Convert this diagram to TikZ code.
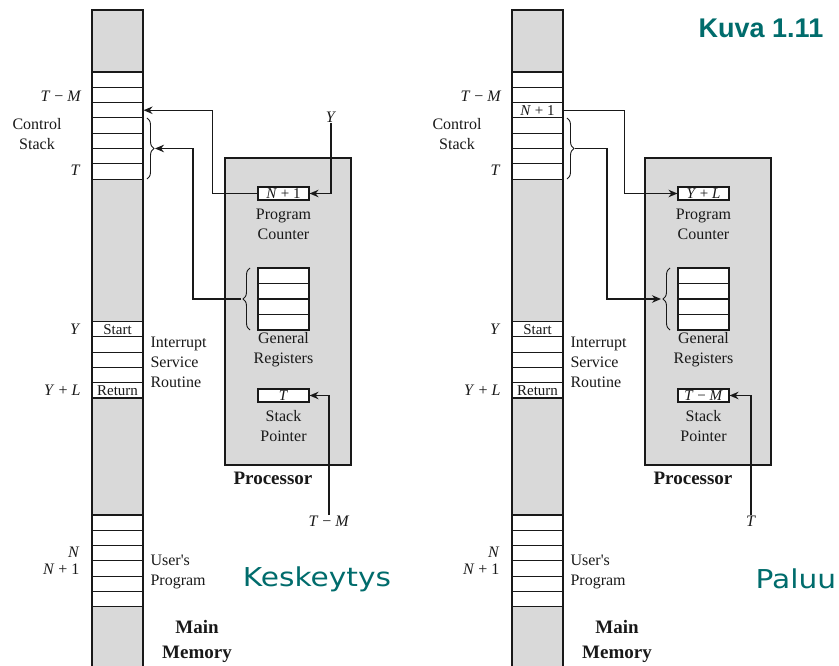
\documentclass[tikz,border=0pt]{standalone}
\usepackage{fontspec}
\setmainfont{Liberation Serif}
\newfontfamily\headfont{Liberation Sans}
\newfontfamily\wordfont{DejaVu Sans}
\usetikzlibrary{arrows.meta,decorations.pathreplacing}
\definecolor{memgray}{RGB}{217,217,217}
\definecolor{tealk}{RGB}{0,108,108}
\definecolor{ink}{RGB}{25,25,25}
\newcommand\lblfont{\fontsize{16}{20}\selectfont}
\newcommand\cellfont{\fontsize{15}{15}\selectfont}
\newcommand\bldfont{\fontsize{19}{25}\selectfont\bfseries}
\newcommand\Np{\textit{N} + 1}
\newcommand\Yl{\textit{Y} + \textit{L}}
\newcommand\Tv{\textit{T}}
\newcommand\Tm{\textit{T} − \textit{M}}
\tikzset{
  cell/.style={draw=ink, fill=white, minimum width=51pt, minimum height=15.3pt, inner sep=0pt, font=\cellfont, text=ink},
  lbl/.style={inner sep=0pt, font=\lblfont, text=ink, align=center},
  lblr/.style={lbl, anchor=east},
  lbll/.style={lbl, anchor=west, align=left},
  bld/.style={inner sep=0pt, font=\bldfont, text=ink, align=center},
  arr/.style={draw=ink, line width=1.2pt, -{Stealth[length=9pt,width=7.5pt]}},
  bracex/.style={draw=ink, line width=0.9pt, decorate, decoration={brace, amplitude=7pt}},
  headtxt/.style={inner sep=0pt, text=tealk}
}
\begin{document}
\begin{tikzpicture}[x=1pt, y=-1pt, line width=1.1pt]
\useasboundingbox[fill=white] (0,0) rectangle (839,666);
\foreach \p/\dx/\pct/\spt in {L/0/\Np/\Tv, R/420/\Yl/\Tm} {
\begin{scope}[xshift=\dx pt]
  % main memory column
  \fill[memgray] (92,10) rectangle (143,666);
  \draw[ink] (92,667) -- (92,10) -- (143,10) -- (143,667);
  \foreach \i in {1,...,7}
    \node[cell] (\p-s\i) at (117.5,{72+(\i-0.5)*15.3}) {};
  \foreach \i in {1,...,5}
    \node[cell] (\p-i\i) at (117.5,{321.5+(\i-0.5)*15.3}) {};
  \node[cell] (\p-start) at (\p-i1) {Start};
  \node[cell] (\p-ret) at (\p-i5) {Return};
  \foreach \i in {1,...,6}
    \node[cell] (\p-u\i) at (117.5,{515+(\i-0.5)*15.3}) {};
  % memory labels
  \node[lblr] (\p-ltm) at (82,96) {\Tm};
  \node[lbl] (\p-cs) at (37,134) {Control\\Stack};
  \node[lblr] (\p-lt) at (81,170) {\Tv};
  \node[lblr] (\p-ly) at (81,329) {\textit{Y}};
  \node[lblr] (\p-lyl) at (81,390) {\Yl};
  \node[lblr] (\p-ln) at (80,552) {\textit{N}};
  \node[lblr] (\p-ln1) at (80,569) {\Np};
  \node[lbll] (\p-isr) at (150,362) {Interrupt\\Service\\Routine};
  \node[lbll] (\p-up) at (150,572) {User\textquotesingle s\\Program};
  \node[bld] (\p-mm) at (197,641) {Main\\Memory};
  % processor
  \node[draw=ink, fill=memgray, minimum width=126pt, minimum height=307pt, inner sep=0pt] (\p-proc) at (288,311.5) {};
  \node[cell, minimum height=13pt] (\p-pc) at (283.5,193.5) {\pct};
  \node[lbl] (\p-pcl) at (283.5,224) {Program\\Counter};
  \foreach \j in {1,...,4}
    \node[cell, minimum height=15.5pt] (\p-r\j) at (283.5,{268+(\j-0.5)*15.5}) {};
  \node[lbl] (\p-grl) at (283.5,350) {General\\Registers};
  \node[cell, minimum height=13pt] (\p-sp) at (283.5,395.5) {\spt};
  \node[lbl] (\p-spl) at (283.5,426) {Stack\\Pointer};
  \node[bld] (\p-prl) at (273,478) {Processor};
  % braces
  \draw[bracex] (147,118) -- (147,179);
  \draw[bracex] (250,330) -- (250,268);
  \coordinate (\p-bs) at (155,148.5);
  \coordinate (\p-br) at (241,299);
\end{scope}
}
% left panel connectors
\node[lbl] (L-yin) at (331,117) {\textit{Y}};
\node[lbl] (L-tmin) at (329,521) {\Tm};
\draw[arr] (L-pc.west) -- ++(-45,0) |- (L-s3.east);
\draw[arr] (L-br) -- ++(-48,0) |- (L-bs);
\draw[arr] (L-yin.south) |- (L-pc.east);
\draw[arr] (L-tmin.north) |- (L-sp.east);
% right panel connectors
\node[cell] (R-s3t) at (R-s3) {\Np};
\node[lbl] (R-tin) at (751,521) {\Tv};
\draw[arr] (R-s3.east) -- ++(61,0) |- (R-pc.west);
\draw[arr] (R-bs) -- ++(32,0) |- (R-br);
\draw[arr] (R-tin.north) |- (R-sp.east);
% headings
\node[headtxt, font=\headfont\bfseries\fontsize{27}{30}\selectfont] (kuva) at (761,28) {Kuva 1.11};
\node[headtxt, font=\wordfont\fontsize{26}{30}\selectfont] (kesk) at (317,579) {\scalebox{1.14}[1]{Keskeytys}};
\node[headtxt, font=\wordfont\fontsize{26}{30}\selectfont, anchor=west] (paluu) at (755,579) {\scalebox{1.14}[1]{Paluu}};
\end{tikzpicture}
\end{document}
